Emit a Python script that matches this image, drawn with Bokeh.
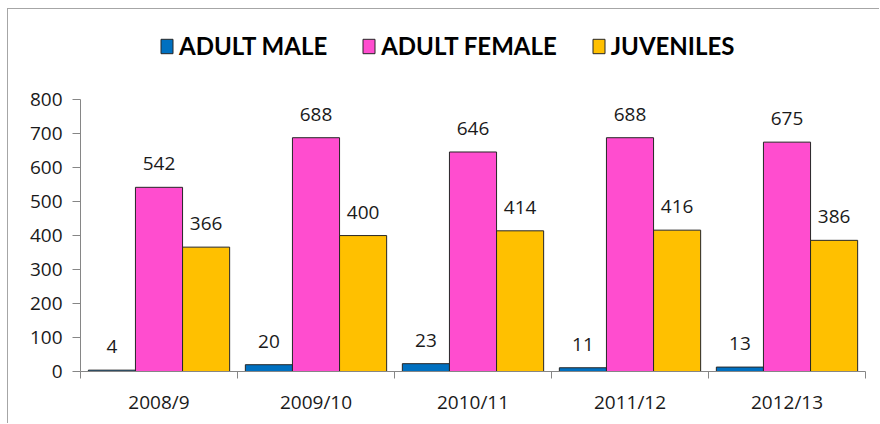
from bokeh.plotting import figure
from bokeh.models import ColumnDataSource, LabelSet, Legend, LegendItem, FixedTicker, Range1d
from bokeh.core.properties import value
from bokeh.embed import file_html
from bokeh.resources import INLINE

seasons = ["2008/9", "2009/10", "2010/11", "2011/12", "2012/13"]
adult_male = [4, 20, 23, 11, 13]
adult_female = [542, 688, 646, 688, 675]
juveniles = [366, 400, 414, 416, 386]
series_names = ["ADULT MALE", "ADULT FEMALE", "JUVENILES"]
colors = ["#0070C0", "#FF4DCF", "#FFC000"]
y_ticks = [0, 100, 200, 300, 400, 500, 600, 700, 800]

FONT = "Lato"
TFONT = "Open Sans"
Y_AXIS_MAX = 800
Y_VIEW_TOP = 1030  # extra headroom above the axis to hold the legend

p = figure(width=872, height=415, output_backend="svg", toolbar_location=None,
           x_range=Range1d(0, len(seasons)), y_range=Range1d(0, Y_VIEW_TOP),
           min_border_left=72, min_border_right=15, min_border_top=12, min_border_bottom=53)
p.styles = {"border-left": "1px solid #a6a6a6", "border-top": "1px solid #a6a6a6",
            "margin-left": "7px", "margin-top": "8px"}
p.outline_line_color = None
p.xgrid.visible = False
p.ygrid.visible = False

offsets = [-0.3, 0.0, 0.3]
renderers = []
for vals, off, col in zip([adult_male, adult_female, juveniles], offsets, colors):
    src = ColumnDataSource(dict(x=[i + 0.5 + off for i in range(len(seasons))], top=vals,
                                lab=[str(v) for v in vals]))
    r = p.vbar(x="x", top="top", width=0.3, source=src, fill_color=col,
               line_color="#262626", line_width=1)
    renderers.append(r)
    p.add_layout(LabelSet(x="x", y="top", text="lab", source=src, text_align="center",
                          text_baseline="bottom", y_offset=17, text_font=value(TFONT),
                          text_font_size="19px", text_color="#1a1a1a"))

# axes
p.yaxis.ticker = FixedTicker(ticks=y_ticks)
p.yaxis.bounds = (0, Y_AXIS_MAX)
p.yaxis.major_label_text_font = TFONT
p.yaxis.major_label_text_font_size = "19px"
p.yaxis.major_label_text_color = "#1a1a1a"
p.yaxis.major_label_standoff = 10
p.yaxis.axis_line_color = "#868686"
p.yaxis.major_tick_line_color = "#868686"
p.yaxis.major_tick_in = 0
p.yaxis.major_tick_out = 8
p.yaxis.minor_tick_line_color = None

p.xaxis.ticker = FixedTicker(ticks=[i + 0.5 for i in range(len(seasons))],
                             minor_ticks=list(range(len(seasons) + 1)))
p.xaxis.major_label_overrides = {i + 0.5: s for i, s in enumerate(seasons)}
p.xaxis.major_label_text_font = TFONT
p.xaxis.major_label_text_font_size = "19px"
p.xaxis.major_label_text_color = "#1a1a1a"
p.xaxis.major_label_standoff = 10
p.xaxis.axis_line_color = "#868686"
p.xaxis.major_tick_line_color = None
p.xaxis.minor_tick_line_color = "#868686"
p.xaxis.minor_tick_in = 0
p.xaxis.minor_tick_out = 7

legend = Legend(items=[LegendItem(label=n, renderers=[r]) for n, r in zip(series_names, renderers)],
                orientation="horizontal", location=(79, 311),
                label_text_font=FONT, label_text_font_style="bold",
                label_text_font_size="24px", label_text_color="#000000",
                glyph_width=15, glyph_height=18, label_standoff=5, spacing=34,
                border_line_color=None, background_fill_alpha=0, margin=0, padding=4)
p.add_layout(legend, "center")

open("out.html", "w").write(file_html(p, INLINE))
